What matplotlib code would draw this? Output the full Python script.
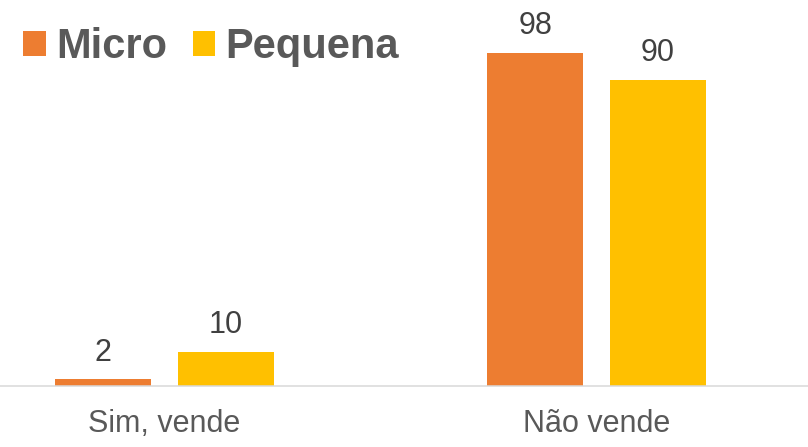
import matplotlib
matplotlib.use("Agg")
import matplotlib.pyplot as plt
from matplotlib.patches import Patch
import numpy as np

plt.rcParams['font.family'] = ['Liberation Sans', 'DejaVu Sans']

categories = ["Sim, vende", "Não vende"]
series_names = ["Micro", "Pequena"]
micro = [2, 98]
pequena = [10, 90]
colors = ["#ED7D31", "#FFC000"]

fig = plt.figure(figsize=(8.08, 4.47), dpi=100)
ax = fig.add_axes([0, 0.1365, 1, 0.8635])

x = np.arange(len(categories))
width = 0.2222
offset = 0.1418
b1 = ax.bar(x - offset, micro, width, color=colors[0], label=series_names[0])
b2 = ax.bar(x + offset, pequena, width, color=colors[1], label=series_names[1])

for bars in (b1, b2):
    ax.bar_label(bars, padding=8.3, fontsize=22, color="#404040")

ax.set_xlim(-0.3808, 1.4896)
ax.set_ylim(0, 113.5)
ax.set_xticks(x)
ax.set_xticklabels(categories, fontsize=22, color="#595959")
ax.tick_params(axis="x", length=0, pad=16.6)
ax.set_yticks([])
for s in ("left", "right", "top"):
    ax.spines[s].set_visible(False)
ax.spines["bottom"].set_color("#D9D9D9")
ax.spines["bottom"].set_linewidth(1.1)

handles = [Patch(facecolor=c, edgecolor="none") for c in colors]
leg = fig.legend(handles, series_names, loc="upper left",
                 bbox_to_anchor=(23 / 808, 1 - 27 / 447), ncol=2,
                 frameon=False, borderpad=0, borderaxespad=0,
                 handlelength=0.54, handleheight=0.54, handletextpad=0.25,
                 columnspacing=0.62,
                 prop={"size": 30, "weight": "bold"})
for t in leg.get_texts():
    t.set_color("#595959")

fig.savefig("out.png", dpi=100)
